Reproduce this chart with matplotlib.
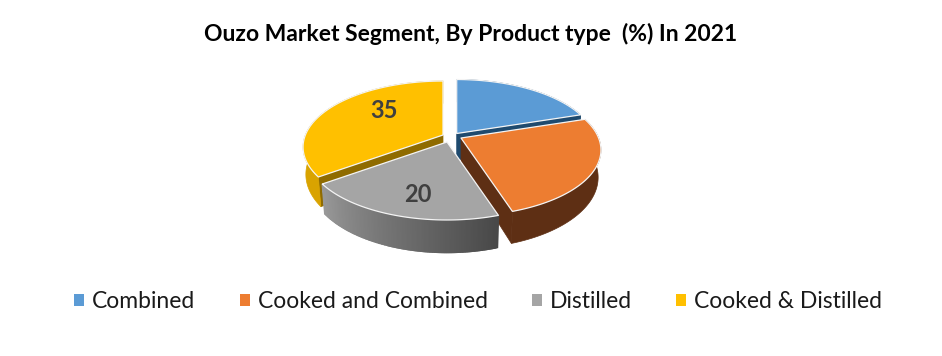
import matplotlib
matplotlib.use('Agg')
import matplotlib.pyplot as plt
import numpy as np
from matplotlib.patches import Patch, Polygon

categories = ["Combined", "Cooked and Combined", "Distilled", "Cooked & Distilled"]
values = [20, 25, 20, 35]
shown = [None, None, "20", "35"]
title = "Ouzo Market Segment, By Product type  (%) In 2021"

top_colors = ['#5B9BD5', '#ED7D31', '#A5A5A5', '#FFC000']
wall_colors = ['#1F4A6E', '#5E2F14', '#636363', '#D9A300']
face_colors = ['#1F4A6E', '#5E2F14', '#636363', '#8F6B00']

# layout of the fake 3d pie, in pixels
apex = [(456.7, 133.5), (461.0, 138.0), (447.0, 142.0), (443.0, 135.0)]
label_xy = [None, None, (418, 195), (384, 111)]
A, B, k = 137.6, 63.8, 0.182
depth = 26.5
squeeze = 0.98

plt.rcParams['font.family'] = ['Lato', 'DejaVu Sans']

fig = plt.figure(figsize=(9.42, 3.56), dpi=100)
ax = fig.add_axes([0, 0, 1, 1])
ax.set_xlim(0, 942)
ax.set_ylim(356, 0)
ax.axis('off')


def top_xy(theta, c):
    u, v = np.sin(theta), np.cos(theta)
    w = 1 + k * v
    return np.column_stack([c[0] + A * u / w, c[1] - B * v / w])


def bottom_xy(theta, c):
    u, v = np.sin(theta), np.cos(theta)
    w = 1 + k * v
    return np.column_stack([c[0] + squeeze * A * u / w, c[1] - B * v / w + depth / w])


edges = np.radians(np.cumsum([0] + values) * 3.6)

# back slices first, then the front ones
for i in [0, 3, 1, 2]:
    c = apex[i]
    th = np.linspace(edges[i], edges[i + 1], 120)
    top = top_xy(th, c)
    bot = bottom_xy(th, c)
    c_bot = (c[0], c[1] + depth)

    # radial cut that faces the viewer
    if i in (0, 1, 3):
        j = 0 if i == 3 else -1
        ax.add_patch(Polygon([c, top[j], bot[j], c_bot], closed=True,
                             fc=face_colors[i], ec=face_colors[i], lw=0.5))

    # outer wall
    if i == 2:
        # grey one has a gradient, light on the left
        for n in range(len(th) - 1):
            g = 0x48 + (0x98 - 0x48) * n / (len(th) - 2)
            col = (g / 255, g / 255, g / 255)
            ax.add_patch(Polygon([top[n], top[n + 1], bot[n + 1], bot[n]], closed=True,
                                 fc=col, ec=col, lw=1.2))
    else:
        ax.add_patch(Polygon(np.vstack([top, bot[::-1]]), closed=True,
                             fc=wall_colors[i], ec=wall_colors[i], lw=0.5))

    # top surface
    ax.add_patch(Polygon(np.vstack([[c], top]), closed=True,
                         fc=top_colors[i], ec='#F4F4F4', lw=0.9, joinstyle='round'))

    if shown[i]:
        ax.text(label_xy[i][0], label_xy[i][1], shown[i], ha='center', va='center',
                fontsize=17, fontweight='bold', color='#404040')

ax.text(471, 34, title, ha='center', va='center', fontsize=16.5, fontweight='bold', color='black')

fs = 16.5
fs_px = fs * 100 / 72
handles = [Patch(fc=col, ec='none') for col in top_colors]
ax.legend(handles, categories, ncols=4, loc='center', bbox_to_anchor=(478, 302),
          bbox_transform=ax.transData, frameon=False, fontsize=fs, labelcolor='#1A1A1A',
          handlelength=10 / fs_px, handleheight=10 / fs_px, handletextpad=8 / fs_px,
          columnspacing=44 / fs_px, borderpad=0, borderaxespad=0)

fig.savefig('out.png', dpi=100)
